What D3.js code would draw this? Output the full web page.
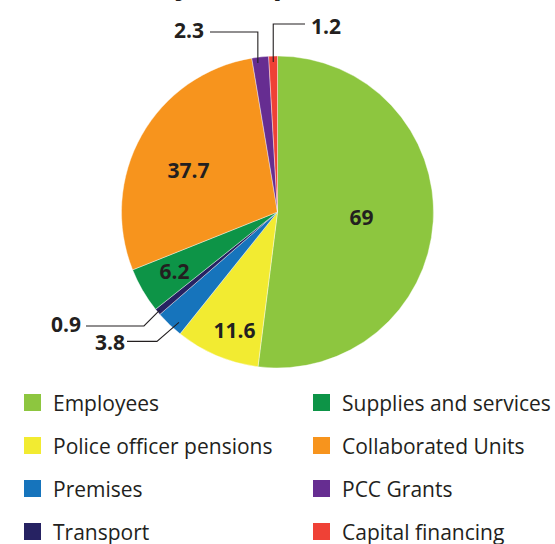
<!DOCTYPE html>
<html><head><meta charset="utf-8">
<script src="https://cdn.jsdelivr.net/npm/d3@7"></script>
<style>html,body{margin:0;padding:0;background:#fff;}svg{display:block;}</style>
</head><body>
<svg id="chart" width="555" height="544"></svg>
<script>
const title = "Summary of expenditure (£m)";
const categories = ["Employees","Police officer pensions","Premises","Transport","Supplies and services","Collaborated Units","PCC Grants","Capital financing"];
const values = [69, 11.6, 3.8, 0.9, 6.2, 37.7, 2.3, 1.2];
const labels = ["69","11.6","3.8","0.9","6.2","37.7","2.3","1.2"];
const colors = ["#8dc63f","#f2eb31","#1674bc","#262262","#0d9447","#f7941d","#662d91","#ef4136"];

const svg = d3.select("#chart");
const W = 555, cx = 277.5, cy = 212, R = 156;
const FONT = "'Open Sans', 'Noto Sans', sans-serif";
const ink = "#231f20";

svg.append("text").attr("x", 272).attr("y", -6).attr("text-anchor","middle")
  .attr("font-family", FONT).attr("font-weight","bold").attr("font-size", 30)
  .attr("fill", ink).text(title);

const data = categories.map((c,i)=>({cat:c, value:values[i], label:labels[i], color:colors[i]}));
const pie = d3.pie().value(d=>d.value).sort(null);
const arcs = pie(data);
const arc = d3.arc().innerRadius(0).outerRadius(R);
const g = svg.append("g").attr("transform", `translate(${cx},${cy})`);
g.selectAll("path").data(arcs).join("path")
  .attr("d", arc).attr("fill", d=>d.data.color)
  .attr("stroke","#fff").attr("stroke-width",0.4);

// inside labels (placed manually like the reference)
const insidePos = {"69":[84,5], "37.7":[-89,-42], "11.6":[-43,118], "6.2":[-103,59]};
arcs.forEach(a=>{
  const p = insidePos[a.data.label];
  if (!p) return;
  g.append("text").attr("x", p[0]).attr("y", p[1]).attr("text-anchor","middle")
    .attr("dominant-baseline","central")
    .attr("font-family", FONT).attr("font-weight","bold").attr("font-size", 21)
    .attr("fill", ink).text(a.data.label);
});

// outside labels with leader lines
function anchorPt(a, frac, rho){
  const ang = a.startAngle + frac*(a.endAngle - a.startAngle);
  return [rho*Math.sin(ang), -rho*Math.cos(ang)];
}
const lineStyle = sel => sel.attr("fill","none").attr("stroke", ink).attr("stroke-width", 1.1);
arcs.forEach(a=>{
  const lab = a.data.label;
  let pts, tx, ty, anchor;
  if (lab === "2.3") {
    const p = anchorPt(a, 0.5, R-6);
    const yl = 32 - cy;
    pts = [[p[0]-3, p[1]], [p[0]-3, yl], [210-cx, yl]];
    tx = 204-cx; ty = 30-cy; anchor = "end";
  } else if (lab === "1.2") {
    const p = anchorPt(a, 0.5, R-6);
    const yl = 24 - cy;
    pts = [[p[0], p[1]], [p[0], yl], [305-cx, yl]];
    tx = 311-cx; ty = 26-cy; anchor = "start";
  } else if (lab === "0.9") {
    const p = anchorPt(a, 0.5, R-3);
    pts = [p, [p[0]-16, p[1]+16], [86-cx, p[1]+16]];
    tx = 81-cx; ty = p[1]+14; anchor = "end";
  } else if (lab === "3.8") {
    const p = anchorPt(a, 0.3, R-8);
    pts = [p, [p[0]-22, p[1]+19], [127-cx, p[1]+19]];
    tx = 125-cx; ty = p[1]+20; anchor = "end";
  } else return;
  g.append("path").attr("d", d3.line()(pts)).call(lineStyle);
  g.append("text").attr("x", tx).attr("y", ty).attr("text-anchor", anchor)
    .attr("dominant-baseline","central")
    .attr("font-family", FONT).attr("font-weight","bold").attr("font-size", 21)
    .attr("fill", ink).text(lab);
});

// legend (column-major, 2 columns x 4 rows)
const colX = [24, 313], rowY0 = 402.5, rowStep = 43;
const lg = svg.append("g");
data.forEach((d,i)=>{
  const col = Math.floor(i/4), row = i%4;
  const x = colX[col], y = rowY0 + row*rowStep;
  lg.append("rect").attr("x", x).attr("y", y-8.5).attr("width",17).attr("height",17).attr("fill", d.color);
  lg.append("text").attr("x", x+29).attr("y", y+8).attr("font-family", FONT)
    .attr("font-size", 21).attr("fill", ink).text(d.cat);
});
</script>
</body></html>
